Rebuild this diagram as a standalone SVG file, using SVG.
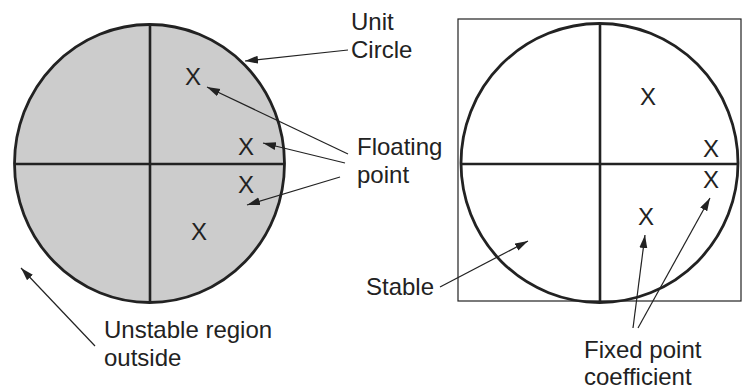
<svg xmlns="http://www.w3.org/2000/svg" width="752" height="391" viewBox="0 0 752 391">
<style>
text{font-family:"Liberation Sans",Arial,sans-serif;font-size:24px;fill:#222}
.c{stroke:#222;stroke-width:2.8}
.ax{stroke:#222;stroke-width:2.6;fill:none}
.ar{stroke:#222;stroke-width:1.2;fill:none;marker-end:url(#ah)}
.m{text-anchor:middle}
</style>
<defs>
<marker id="ah" markerUnits="userSpaceOnUse" markerWidth="14" markerHeight="10" refX="13" refY="4" orient="auto">
<path d="M0,0 L13,4 L0,8 z" fill="#222"/>
</marker>
</defs>
<g id="left-plane">
<ellipse cx="149.5" cy="163.5" rx="135" ry="139" fill="#cccccc" class="c"/>
<line x1="150" y1="24" x2="150" y2="302" class="ax"/>
<line x1="14" y1="164" x2="284" y2="164" class="ax"/>
<text x="193" y="85" class="m">X</text>
<text x="246" y="155" class="m">X</text>
<text x="246" y="193" class="m">X</text>
<text x="199" y="240" class="m">X</text>
</g>
<g id="right-plane">
<rect x="458" y="19" width="283" height="282" fill="none" stroke="#222" stroke-width="1.2"/>
<ellipse cx="599.5" cy="163" rx="138.5" ry="139.5" fill="none" class="c"/>
<line x1="600" y1="23" x2="600" y2="302" class="ax"/>
<line x1="461" y1="164" x2="738" y2="164" class="ax"/>
<text x="648" y="105" class="m">X</text>
<text x="711" y="157" class="m">X</text>
<text x="711" y="188" class="m">X</text>
<text x="646" y="225" class="m">X</text>
</g>
<g id="label-unit-circle">
<text x="351" y="30">Unit</text>
<text x="351" y="58">Circle</text>
</g>
<g id="label-floating-point">
<text x="357" y="155">Floating</text>
<text x="357" y="183">point</text>
</g>
<g id="label-unstable">
<text x="104" y="338">Unstable region</text>
<text x="104" y="366">outside</text>
</g>
<g id="label-stable">
<text x="366" y="295">Stable</text>
</g>
<g id="label-fixed-point">
<text x="584" y="358">Fixed point</text>
<text x="584" y="385">coefficient</text>
</g>
<g id="connectors">
<path class="ar" d="M348,50 L245,61"/>
<path class="ar" d="M348,154 L207,87"/>
<path class="ar" d="M345,163 L263,143"/>
<path class="ar" d="M340,177 L247,205"/>
<path class="ar" d="M95,346 L21,268"/>
<path class="ar" d="M440,287 L528,241"/>
<path class="ar" d="M633,328 L645,235"/>
<path class="ar" d="M638,328 L710,198"/>
</g>
</svg>
